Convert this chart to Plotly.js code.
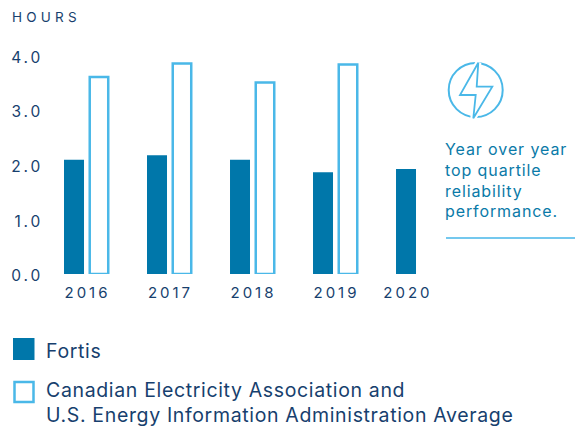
<!DOCTYPE html>
<html>
<head>
<meta charset="utf-8">
<script src="https://cdn.plot.ly/plotly-3.0.1.min.js"></script>
<style>
html,body{margin:0;padding:0;background:#fff}
.xtick text{letter-spacing:3px;translate:1px 0}
.ytick text{letter-spacing:2.8px;translate:0 2px}
</style>
</head>
<body>
<div id="chart" style="width:575px;height:427px"></div>
<script>
const years = [2016, 2017, 2018, 2019, 2020];
const fortisValues = [2.09, 2.17, 2.09, 1.86, 1.92];
const averageYears = [2016, 2017, 2018, 2019];
const averageValues = [3.60, 3.85, 3.50, 3.83];
const yTicks = [0, 1, 2, 3, 4];
const yTickLabels = ["0.0", "1.0", "2.0", "3.0", "4.0"];
const xTickPositions = [2016, 2017, 2018, 2019, 2019.86];
const xTickLabels = ["2016", "2017", "2018", "2019", "2020"];
const fortisName = "Fortis";
const averageName = "Canadian Electricity Association and<br>U.S. Energy Information Administration Average";
const noteText = "Year over year<br>top quartile<br>reliability<br>performance.";

const W = 575, H = 427;
const px = x => x / W, py = y => 1 - y / H;
const NAVY = "#173f6e", BLUE = "#0077aa", SKY = "#4ab8e8";
const FONT = "Inter, 'Open Sans', sans-serif";

const boltPts = [[478.3,62.7],[460,95],[475.7,95],[473.3,118.3],[492.3,86.7],[476.7,86.7]];
const boltPath = boltPts.map((p,i)=>(i?"L":"M")+px(p[0])+","+py(p[1])).join(" ")+" Z";

const shapes = [
  {type:"circle",xref:"paper",yref:"paper",x0:px(448.7),x1:px(502.7),y0:py(117),y1:py(63),line:{color:SKY,width:2}},
  {type:"path",xref:"paper",yref:"paper",path:boltPath,line:{color:"#fff",width:6}},
  {type:"path",xref:"paper",yref:"paper",path:boltPath,line:{color:SKY,width:1.8}},
  {type:"line",xref:"paper",yref:"paper",x0:px(446),x1:px(575),y0:py(238),y1:py(238),line:{color:"#74c8ee",width:2}},
  {type:"rect",xref:"paper",yref:"paper",x0:px(13),x1:px(34.5),y0:py(360),y1:py(338),fillcolor:BLUE,line:{width:0}},
  {type:"rect",xref:"paper",yref:"paper",x0:px(14.5),x1:px(33.5),y0:py(402),y1:py(382),fillcolor:"#fff",line:{color:SKY,width:2.5}}
];

const annotations = [
  {text:"HOURS",x:px(11),y:py(17),font:{size:13.5,color:NAVY}},
  {text:noteText,x:px(444),y:py(180),font:{size:16,color:"#0a7aa8"}},
  {text:fortisName,x:px(44.5),y:py(351),font:{size:19.5,color:NAVY}},
  {text:averageName,x:px(44.5),y:py(402),font:{size:19.5,color:NAVY}}
].map(a=>Object.assign({xref:"paper",yref:"paper",xanchor:"left",yanchor:"middle",align:"left",showarrow:false,borderpad:0},a));
annotations.forEach(a=>{a.font.family=FONT;});

const spacing = {"HOURS":"4.2px","Year":".9px","Fortis":".65px","Canadian":".65px"};

Plotly.newPlot("chart",[
  {type:"bar",name:fortisName,x:years,y:fortisValues,width:0.241,offset:-0.271,
   marker:{color:BLUE,line:{width:0}}},
  {type:"bar",name:"Average",x:averageYears,y:averageValues,width:0.223,offset:0.039,
   marker:{color:"#fff",line:{color:SKY,width:2.5}}}
],{
  width:W,height:H,autosize:false,showlegend:false,barmode:"overlay",
  paper_bgcolor:"#fff",plot_bgcolor:"#fff",
  margin:{l:0,r:0,t:0,b:0},
  font:{family:FONT,color:NAVY},
  xaxis:{domain:[px(44),px(440)],range:[2015.488,2020.259],tickmode:"array",tickvals:xTickPositions,ticktext:xTickLabels,
    showgrid:false,zeroline:false,showline:false,ticks:"",tickfont:{size:15,color:NAVY},anchor:"y",automargin:false,ticklabelstandoff:8},
  yaxis:{domain:[py(274),py(45)],range:[0,4.186],tickmode:"array",tickvals:yTicks,ticktext:yTickLabels,
    showgrid:false,zeroline:false,showline:false,ticks:"",tickfont:{size:15.5,color:NAVY},anchor:"x",automargin:false},
  shapes:shapes,annotations:annotations
},{displayModeBar:false,staticPlot:true}).then(()=>{
  document.querySelectorAll("#chart .annotation-text").forEach(t=>{
    const key = Object.keys(spacing).find(k=>t.textContent.startsWith(k));
    if(key) t.style.letterSpacing = spacing[key];
  });
});
</script>
</body>
</html>
